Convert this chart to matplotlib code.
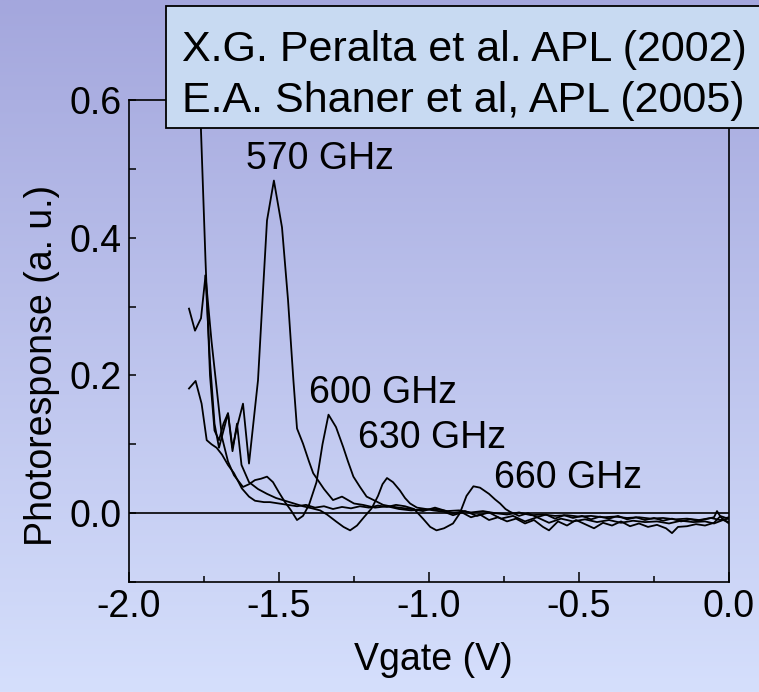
import numpy as np
import matplotlib.pyplot as plt
from matplotlib.patches import Rectangle
from matplotlib.ticker import MultipleLocator

plt.rcParams['font.family'] = ['Liberation Sans', 'DejaVu Sans']

# --- data (Vgate in V, photoresponse in a.u.) ---
x570 = [-1.78, -1.76, -1.745, -1.73, -1.715, -1.70, -1.685, -1.67, -1.655, -1.64,
        -1.62, -1.60, -1.57, -1.555, -1.54, -1.517, -1.49, -1.47, -1.452, -1.44,
        -1.42, -1.40, -1.386, -1.35, -1.32, -1.29, -1.25, -1.22, -1.18, -1.14,
        -1.10, -1.06, -1.02, -0.98, -0.94, -0.90, -0.86, -0.82, -0.78, -0.74,
        -0.70, -0.66, -0.62, -0.58, -0.54, -0.50, -0.46, -0.42, -0.38, -0.34,
        -0.30, -0.26, -0.22, -0.18, -0.14, -0.10, -0.06, -0.03, 0.0]
y570 = [0.87, 0.555, 0.367, 0.20, 0.12, 0.106, 0.13, 0.145, 0.095, 0.125,
        0.159, 0.072, 0.193, 0.31, 0.425, 0.483, 0.415, 0.31, 0.193, 0.123,
        0.101, 0.075, 0.058, 0.035, 0.019, 0.024, 0.014, 0.012, 0.008, 0.010,
        0.006, 0.004, 0.005, 0.006, 0.003, 0.004, 0.001, 0.003, 0.000, -0.002,
        0.001, -0.003, -0.002, -0.004, -0.003, -0.005, -0.004, -0.006, -0.005, -0.007,
        -0.006, -0.008, -0.007, -0.009, -0.008, -0.010, -0.007, -0.010, -0.008]

x600 = [-1.80, -1.78, -1.76, -1.745, -1.725, -1.71, -1.69, -1.67, -1.65, -1.62,
        -1.60, -1.58, -1.56, -1.54, -1.52, -1.50, -1.48, -1.46, -1.44, -1.42,
        -1.40, -1.375, -1.355, -1.335, -1.31, -1.286, -1.27, -1.252, -1.23, -1.208,
        -1.18, -1.153, -1.13, -1.10, -1.06, -1.02, -0.98, -0.95, -0.92, -0.88,
        -0.84, -0.80, -0.76, -0.72, -0.68, -0.64, -0.60, -0.56, -0.52, -0.48,
        -0.44, -0.40, -0.36, -0.32, -0.28, -0.24, -0.20, -0.16, -0.12, -0.08,
        -0.05, -0.02, 0.0]
y600 = [0.297, 0.265, 0.283, 0.345, 0.25, 0.19, 0.11, 0.075, 0.055, 0.038,
        0.042, 0.048, 0.050, 0.053, 0.045, 0.030, 0.016, 0.004, -0.010, -0.004,
        0.012, 0.045, 0.10, 0.143, 0.125, 0.096, 0.075, 0.053, 0.038, 0.024,
        0.018, 0.012, 0.010, 0.008, 0.006, 0.003, 0.008, 0.004, 0.000, 0.003,
        -0.004, 0.001, -0.008, -0.004, -0.012, -0.006, -0.014, -0.008, -0.012, -0.009,
        -0.013, -0.010, -0.014, -0.011, -0.013, -0.012, -0.015, -0.011, -0.013, -0.012,
        -0.015, -0.010, -0.013]

x630 = [-1.745, -1.73, -1.715, -1.70, -1.685, -1.67, -1.655, -1.64, -1.625, -1.60,
        -1.57, -1.54, -1.51, -1.48, -1.45, -1.42, -1.39, -1.363, -1.34, -1.31,
        -1.285, -1.263, -1.24, -1.215, -1.191, -1.17, -1.155, -1.14, -1.12, -1.097,
        -1.08, -1.063, -1.04, -1.01, -0.986, -0.95, -0.92, -0.89, -0.86, -0.83,
        -0.80, -0.77, -0.74, -0.71, -0.68, -0.65, -0.62, -0.60, -0.57, -0.54,
        -0.51, -0.48, -0.45, -0.42, -0.39, -0.36, -0.33, -0.30, -0.27, -0.24,
        -0.21, -0.19, -0.17, -0.14, -0.11, -0.08, -0.05, -0.03, -0.01, 0.0]
y630 = [0.345, 0.22, 0.13, 0.095, 0.12, 0.145, 0.09, 0.13, 0.07, 0.045,
        0.035, 0.028, 0.022, 0.018, 0.014, 0.010, 0.007, 0.004, -0.002, -0.012,
        -0.020, -0.025, -0.018, -0.005, 0.007, 0.025, 0.042, 0.051, 0.045, 0.033,
        0.022, 0.014, 0.008, 0.006, 0.004, 0.002, -0.003, 0.001, -0.006, -0.002,
        -0.010, -0.006, -0.012, -0.008, -0.015, -0.010, -0.020, -0.025, -0.012, -0.018,
        -0.010, -0.016, -0.022, -0.014, -0.018, -0.012, -0.019, -0.015, -0.020, -0.017,
        -0.022, -0.029, -0.020, -0.019, -0.016, -0.018, -0.014, -0.005, -0.012, -0.015]

x660 = [-1.80, -1.778, -1.758, -1.741, -1.725, -1.708, -1.69, -1.67, -1.65, -1.624,
        -1.60, -1.58, -1.55, -1.53, -1.50, -1.47, -1.44, -1.41, -1.38, -1.35,
        -1.32, -1.29, -1.26, -1.23, -1.20, -1.17, -1.14, -1.11, -1.08, -1.05,
        -1.02, -0.996, -0.975, -0.95, -0.92, -0.897, -0.875, -0.852, -0.83, -0.80,
        -0.78, -0.763, -0.745, -0.73, -0.70, -0.67, -0.64, -0.61, -0.58, -0.55,
        -0.52, -0.49, -0.46, -0.43, -0.40, -0.37, -0.34, -0.31, -0.28, -0.25,
        -0.22, -0.19, -0.16, -0.13, -0.10, -0.07, -0.05, -0.04, -0.03, -0.01, 0.0]
y660 = [0.181, 0.192, 0.159, 0.106, 0.10, 0.095, 0.085, 0.07, 0.058, 0.036,
        0.024, 0.018, 0.016, 0.016, 0.014, 0.012, 0.010, 0.012, 0.008, 0.010,
        0.006, 0.009, 0.007, 0.010, 0.008, 0.011, 0.009, 0.012, 0.010, 0.006,
        -0.008, -0.020, -0.025, -0.022, -0.015, 0.000, 0.025, 0.039, 0.037, 0.028,
        0.020, 0.014, 0.006, 0.002, -0.004, 0.000, -0.006, -0.002, -0.008, -0.003,
        -0.007, -0.004, -0.009, -0.005, -0.008, -0.004, -0.009, -0.006, -0.010, -0.007,
        -0.011, -0.008, -0.012, -0.009, -0.011, -0.008, -0.006, 0.003, -0.004, -0.007, -0.006]

curves = [(x570, y570), (x600, y600), (x630, y630), (x660, y660)]
freq_labels = ['570 GHz', '600 GHz', '630 GHz', '660 GHz']
label_pos = [(-1.61, 0.514), (-1.40, 0.174), (-1.237, 0.109), (-0.783, 0.051)]
refs = ['X.G. Peralta et al. APL (2002)', 'E.A. Shaner et al, APL (2005)']

fig = plt.figure(figsize=(7.59, 6.92), dpi=100)

# background gradient
bg = fig.add_axes([0, 0, 1, 1], zorder=0)
top = np.array([164, 167, 221]) / 255
bot = np.array([213, 223, 252]) / 255
t = np.linspace(0, 1, 256)[:, None]
grad = (top[None, :] * (1 - t) + bot[None, :] * t)[:, None, :]
bg.imshow(grad, aspect='auto', extent=[0, 1, 0, 1])
bg.axis('off')

ax = fig.add_axes([129 / 759, 1 - 582 / 692, 600 / 759, 482 / 692], zorder=1)
ax.set_facecolor('none')

for xs, ys in curves:
    ax.plot(xs, ys, color='black', lw=1.3)
ax.axhline(0, color='black', lw=1.2)

for lab, (lx, ly) in zip(freq_labels, label_pos):
    ax.text(lx, ly, lab, fontsize=27, ha='left', va='center')

ax.set_xlim(-2.0, 0.0)
ax.set_ylim(-0.1, 0.6)
ax.xaxis.set_minor_locator(MultipleLocator(0.25))
ax.yaxis.set_minor_locator(MultipleLocator(0.1))
ax.set_xticks([-2.0, -1.5, -1.0, -0.5, 0.0])
ax.set_xticklabels(['-2.0', '-1.5', '-1.0', '-0.5', '0.0'])
ax.set_yticks([0.0, 0.2, 0.4, 0.6])
ax.set_yticklabels(['0.0', '0.2', '0.4', '0.6'])
ax.tick_params(axis='both', which='both', direction='in', labelsize=27, width=1.1)
ax.tick_params(axis='x', which='major', length=7, pad=5)
ax.tick_params(axis='x', which='minor', length=4)
ax.tick_params(axis='y', which='both', length=5, pad=5)
for sp in ax.spines.values():
    sp.set_linewidth(1.2)

ax.set_xlabel('Vgate (V)', fontsize=27)
ax.set_ylabel('Photoresponse (a. u.)', fontsize=27)
ax.xaxis.set_label_coords(0.508, -0.162)
ax.xaxis.label.set_va('center')
ax.yaxis.set_label_coords(-0.145, 0.45)
ax.yaxis.label.set_va('center')

# reference box
box = Rectangle((166 / 759, 1 - 128 / 692), 0.9, 122 / 692, transform=fig.transFigure,
                facecolor='#c8daf2', edgecolor='black', lw=1.3, zorder=5)
fig.add_artist(box)
fig.text(182 / 759, 1 - 61 / 692, refs[0], fontsize=31, ha='left', va='baseline', zorder=6)
fig.text(182 / 759, 1 - 112 / 692, refs[1], fontsize=31, ha='left', va='baseline', zorder=6)

fig.savefig('out.png', dpi=100)
